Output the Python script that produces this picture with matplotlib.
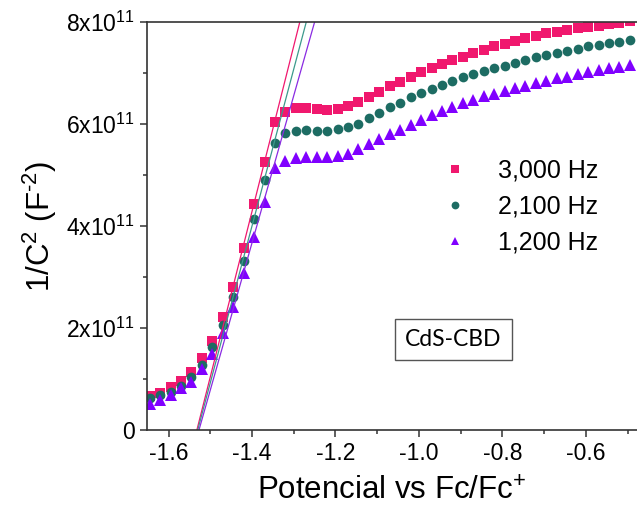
import matplotlib
matplotlib.use('Agg')
from matplotlib import pyplot as plt
from matplotlib.ticker import MultipleLocator, FuncFormatter

plt.rcParams['font.family'] = ['Liberation Sans', 'DejaVu Sans']
plt.rcParams['mathtext.fontset'] = 'custom'
plt.rcParams['mathtext.rm'] = 'Liberation Sans'
plt.rcParams['mathtext.it'] = 'Liberation Sans'
plt.rcParams['axes.unicode_minus'] = False

# potential sweep [V vs Fc/Fc+]
potential = [
    -1.645, -1.620, -1.595, -1.570, -1.545, -1.520, -1.495, -1.470, -1.445, -1.420,
    -1.395, -1.370, -1.345, -1.320, -1.295, -1.270, -1.245, -1.220, -1.195, -1.170,
    -1.145, -1.120, -1.095, -1.070, -1.045, -1.020, -0.995, -0.970, -0.945, -0.920,
    -0.895, -0.870, -0.845, -0.820, -0.795, -0.770, -0.745, -0.720, -0.695, -0.670,
    -0.645, -0.620, -0.595, -0.570, -0.545, -0.520, -0.495,
]

# 1/C^2 in units of 1e11 F^-2
inv_c2_3000 = [
    0.67, 0.73, 0.84, 0.96, 1.13, 1.41, 1.75, 2.22, 2.81, 3.56,
    4.43, 5.25, 6.03, 6.24, 6.32, 6.32, 6.29, 6.27, 6.29, 6.35,
    6.43, 6.52, 6.62, 6.75, 6.83, 6.93, 7.01, 7.09, 7.18, 7.25,
    7.32, 7.39, 7.45, 7.52, 7.57, 7.63, 7.68, 7.73, 7.78, 7.81,
    7.84, 7.88, 7.91, 7.93, 7.96, 7.98, 8.01,
]
inv_c2_2100 = [
    0.62, 0.68, 0.75, 0.86, 1.03, 1.27, 1.62, 2.05, 2.61, 3.32,
    4.14, 4.90, 5.63, 5.82, 5.87, 5.88, 5.87, 5.87, 5.90, 5.94,
    6.00, 6.11, 6.21, 6.33, 6.42, 6.52, 6.60, 6.69, 6.76, 6.84,
    6.92, 6.98, 7.04, 7.09, 7.14, 7.20, 7.25, 7.31, 7.35, 7.40,
    7.44, 7.47, 7.52, 7.55, 7.58, 7.61, 7.65,
]
inv_c2_1200 = [
    0.51, 0.59, 0.69, 0.82, 0.95, 1.20, 1.50, 1.91, 2.42, 3.07,
    3.79, 4.48, 5.13, 5.28, 5.34, 5.36, 5.36, 5.36, 5.37, 5.42,
    5.51, 5.61, 5.70, 5.80, 5.88, 5.98, 6.08, 6.18, 6.25, 6.34,
    6.41, 6.47, 6.54, 6.59, 6.65, 6.70, 6.75, 6.80, 6.84, 6.90,
    6.93, 6.98, 7.01, 7.06, 7.09, 7.12, 7.16,
]

labels = ['3,000 Hz', '2,100 Hz', '1,200 Hz']
# Mott-Schottky fits: potential at 1/C^2 = 0 and at 1/C^2 = 8e11
fit_start = [-1.532, -1.530, -1.527]
fit_end = [-1.2855, -1.270, -1.250]

colors = ['#F0186E', '#1D6C63', '#8000FF']
line_colors = ['#F0186E', '#3C9A8C', '#8A2BE2']
markers = ['s', 'o', '^']
sizes = [6.5, 7, 8]

fig = plt.figure(figsize=(6.37, 5.08), dpi=100)
ax = fig.add_axes([147 / 637, 78 / 508, 490 / 637, 408 / 508])

series = [inv_c2_3000, inv_c2_2100, inv_c2_1200]
for vals, lab, c, m, s in zip(series, labels, colors, markers, sizes):
    ax.plot(potential, [v * 1e11 for v in vals], linestyle='none', marker=m,
            markersize=s, color=c, markeredgewidth=0, label=lab)

for x0, x1, c in zip(fit_start, fit_end, line_colors):
    ax.plot([x0, x1], [0, 8e11], color=c, linewidth=0.9)

ax.set_xlim(-1.6515, -0.4778)
ax.set_ylim(0, 8e11)
ax.xaxis.set_major_locator(MultipleLocator(0.2))
ax.xaxis.set_minor_locator(MultipleLocator(0.1))
ax.yaxis.set_major_locator(MultipleLocator(2e11))
ax.yaxis.set_minor_locator(MultipleLocator(1e11))
ax.xaxis.set_major_formatter(FuncFormatter(lambda v, p: f'{v:.1f}'))


def y_fmt(v, p):
    if abs(v) < 1:
        return '0'
    return f'{v / 1e11:.0f}x10$^{{11}}$'


ax.yaxis.set_major_formatter(FuncFormatter(y_fmt))
ax.tick_params(which='both', direction='out', width=1.1, color='#333333',
               labelsize=16.5)
ax.tick_params(which='major', length=5, pad=4)
ax.tick_params(which='minor', length=3)
ax.spines['right'].set_visible(False)
for sp in ['left', 'bottom', 'top']:
    ax.spines[sp].set_linewidth(1.2)
    ax.spines[sp].set_color('#333333')

ax.set_xlabel('Potencial vs Fc/Fc$^{+}$', fontsize=22.5, labelpad=8)
ax.set_ylabel('1/C$^{2}$ (F$^{\\text{-}2}$)', fontsize=22.5, labelpad=5)

ax.legend(loc='upper left', bbox_to_anchor=(430 / 637, 1 - 146 / 508),
          bbox_transform=fig.transFigure, frameon=False, fontsize=18,
          markerscale=0.8, handlelength=1.0, handletextpad=1.2,
          labelspacing=0.48, borderpad=0)

ax.text(453.5 / 637, 1 - 339.5 / 508, 'CdS-CBD', transform=fig.transFigure,
        fontsize=16.5, family=['Lato', 'DejaVu Sans'], ha='center',
        va='center',
        bbox=dict(boxstyle='square,pad=0.45', facecolor='white',
                  edgecolor='#555555', linewidth=1))

fig.savefig('out.png', dpi=100)
